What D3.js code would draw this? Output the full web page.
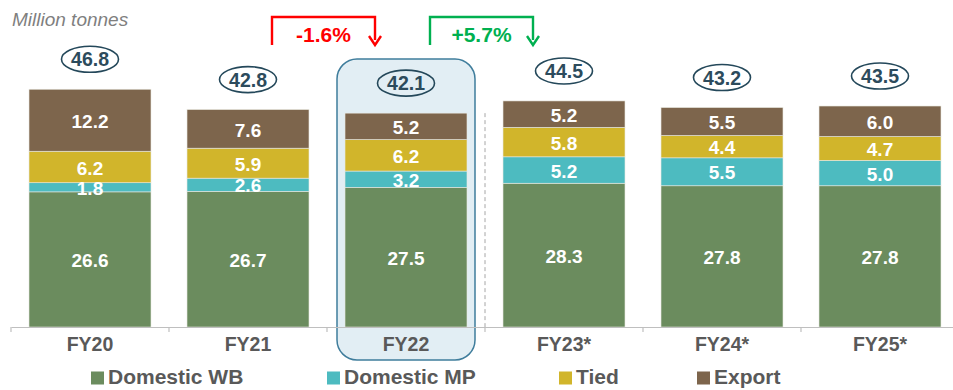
<!DOCTYPE html>
<html>
<head>
<meta charset="utf-8">
<script src="https://cdn.jsdelivr.net/npm/d3@7"></script>
<style>
  html, body { margin: 0; padding: 0; background: #ffffff; }
  svg { display: block; font-family: "Liberation Sans", Arial, sans-serif; }
</style>
</head>
<body>
<svg id="chart" width="953" height="390"></svg>
<script>
// Volumes by fiscal year, million tonnes
const categories = ["FY20", "FY21", "FY22", "FY23*", "FY24*", "FY25*"];
const seriesNames = ["Domestic WB", "Domestic MP", "Tied", "Export"];
const domesticWB = [26.6, 26.7, 27.5, 28.3, 27.8, 27.8];
const domesticMP = [1.8, 2.6, 3.2, 5.2, 5.5, 5.0];
const tied = [6.2, 5.9, 6.2, 5.8, 4.4, 4.7];
const exportVol = [12.2, 7.6, 5.2, 5.2, 5.5, 6.0];
const totals = [46.8, 42.8, 42.1, 44.5, 43.2, 43.5];
const changes = [
  { from: "FY21", to: "FY22", label: "-1.6%", color: "#ff0000" },
  { from: "FY22", to: "FY23*", label: "+5.7%", color: "#00b050" }
];
const highlighted = "FY22";
const forecastStart = "FY23*";

const colors = ["#6b8c5e", "#4dbbc0", "#d1b52b", "#7d654c"];
const seriesValues = [domesticWB, domesticMP, tied, exportVol];

const rows = categories.map((c, i) => {
  const r = { cat: c };
  seriesNames.forEach((s, k) => { r[s] = seriesValues[k][i]; });
  return r;
});
const stacked = d3.stack().keys(seriesNames)(rows);

const svg = d3.select("#chart");
const x = d3.scaleBand().domain(categories).range([11, 959]).paddingInner(0.228).paddingOuter(0.114);
const y = d3.scaleLinear().domain([0, 60]).range([327, 327 - 60 * 5.08]);
const step = x.step();
const xc = c => x(c) + x.bandwidth() / 2;

// Highlight panel for the current year
const hx = xc(highlighted);
svg.append("rect")
  .attr("x", hx - 69).attr("y", 59)
  .attr("width", 138).attr("height", 301)
  .attr("rx", 20).attr("ry", 20)
  .attr("fill", "#e2eef4").attr("stroke", "#3f7d9c").attr("stroke-width", 1.5);

// Divider between actuals and forecasts
const dx = x(forecastStart) - (step - x.bandwidth()) / 2;
svg.append("line")
  .attr("x1", dx).attr("x2", dx)
  .attr("y1", y(totals[2])).attr("y2", 327)
  .attr("stroke", "#a6a6a6").attr("stroke-width", 1).attr("stroke-dasharray", "4,3");

// Stacked bars
const layer = svg.append("g").selectAll("g").data(stacked).join("g")
  .attr("fill", (d, i) => colors[i]);
layer.selectAll("rect").data(d => d).join("rect")
  .attr("x", d => x(d.data.cat))
  .attr("y", d => y(d[1]))
  .attr("width", x.bandwidth())
  .attr("height", d => y(d[0]) - y(d[1]))
  .attr("stroke", "#e8e8e0").attr("stroke-width", 0.6);

// Segment value labels
const labelLayer = svg.append("g").selectAll("g").data(stacked).join("g");
labelLayer.selectAll("text").data(d => d.map(p => ({ p, key: d.key }))).join("text")
  .attr("x", d => xc(d.p.data.cat))
  .attr("y", d => (y(d.p[0]) + y(d.p[1])) / 2 + 1)
  .attr("dy", "0.35em")
  .attr("text-anchor", "middle")
  .attr("fill", "#ffffff")
  .attr("font-weight", "bold")
  .attr("font-size", 19)
  .text(d => d.p.data[d.key].toFixed(1));

// Total bubbles
const tot = svg.append("g").selectAll("g").data(categories).join("g")
  .attr("transform", (c, i) => `translate(${xc(c)},${y(totals[i]) - 30})`);
tot.append("ellipse")
  .attr("rx", 28.5).attr("ry", 13)
  .attr("fill", "none").attr("stroke", "#24485a").attr("stroke-width", 1.6);
tot.append("text")
  .attr("text-anchor", "middle").attr("dy", "0.36em")
  .attr("fill", "#2c4b5c").attr("font-weight", "bold").attr("font-size", 19.5)
  .text((c, i) => totals[i].toFixed(1));

// Year-on-year change arrows
changes.forEach(ch => {
  const x1 = xc(ch.from) + 24;
  const x2 = xc(ch.to) - 31;
  const g = svg.append("g");
  g.append("path")
    .attr("d", `M${x1},45 V17 H${x2} V40`)
    .attr("fill", "none").attr("stroke", ch.color).attr("stroke-width", 2.4);
  g.append("path")
    .attr("d", `M${x2 - 6},36 L${x2},45 L${x2 + 6},36`)
    .attr("fill", "none").attr("stroke", ch.color).attr("stroke-width", 2.4)
    .attr("stroke-linejoin", "miter");
  g.append("text")
    .attr("x", (x1 + x2) / 2).attr("y", 42)
    .attr("text-anchor", "middle")
    .attr("fill", ch.color).attr("font-weight", "bold").attr("font-size", 21)
    .text(ch.label);
});

// Category axis
const axis = svg.append("g").attr("transform", "translate(0,327)")
  .call(d3.axisBottom(x).tickSize(0).tickPadding(0));
axis.select(".domain").attr("stroke", "#bfbfbf").attr("stroke-width", 1.2);
axis.selectAll(".tick text")
  .attr("y", 24)
  .attr("dy", null)
  .attr("fill", "#595959").attr("font-weight", "bold").attr("font-size", 19.5)
  .attr("font-family", "Liberation Sans, Arial, sans-serif");
const bounds = d3.range(categories.length + 1).map(i => 11 + i * step);
axis.selectAll("line.sep").data(bounds).join("line").attr("class", "sep")
  .attr("x1", d => d).attr("x2", d => d).attr("y1", 0).attr("y2", 5)
  .attr("stroke", "#bfbfbf").attr("stroke-width", 1.2);

// Unit label
svg.append("text")
  .attr("x", 12).attr("y", 26)
  .attr("fill", "#7f7f7f").attr("font-style", "italic").attr("font-size", 19)
  .text("Million tonnes");

// Legend
const legendX = [91, 327, 559, 697];
const leg = svg.append("g").selectAll("g").data(seriesNames).join("g")
  .attr("transform", (d, i) => `translate(${legendX[i]},378)`);
leg.append("rect")
  .attr("x", 0).attr("y", -6.5).attr("width", 13).attr("height", 13)
  .attr("fill", (d, i) => colors[i]);
leg.append("text")
  .attr("x", 17).attr("y", 6)
  .attr("fill", "#595959").attr("font-weight", "bold").attr("font-size", 21)
  .text(d => d);
</script>
</body>
</html>
